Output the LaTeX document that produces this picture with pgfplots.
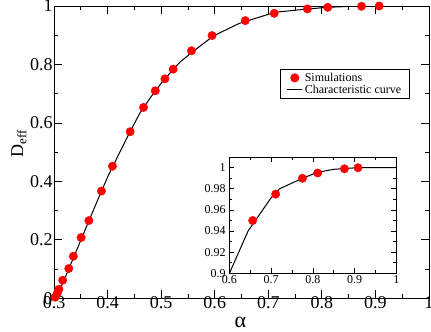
\documentclass[border=0pt]{standalone}
\usepackage{fontspec}
\setmainfont{Liberation Serif}
\usepackage{pgfplots}
\pgfplotsset{compat=1.18}
\usepackage{pgfplotstable}

\pgfplotstableread{
x y
0.302 0.004
0.306 0.018
0.309 0.031
0.316 0.062
0.3275 0.102
0.336 0.144
0.3505 0.208
0.365 0.266
0.3885 0.367
0.409 0.452
0.442 0.570
0.467 0.653
0.489 0.710
0.507 0.751
0.5224 0.784
0.5566 0.847
0.595 0.899
0.657 0.950
0.711 0.975
0.773 0.990
0.811 0.9955
0.874 0.999
0.907 1.000
}\sims

\pgfplotstableread{
x y
0.3035 0
0.32 0.068
0.34 0.155
0.36 0.243
0.38 0.33
0.40 0.415
0.42 0.49
0.44 0.563
0.46 0.633
0.48 0.687
0.50 0.736
0.52 0.778
0.535 0.808
0.555 0.838
0.575 0.866
0.597 0.897
0.645 0.94
0.70 0.9715
0.72 0.98
0.775 0.99
0.81 0.9955
0.85 0.9985
0.905 1.0
1.0 1.0
}\curve

\begin{document}
\begin{tikzpicture}
\useasboundingbox (-54pt,-33pt) rectangle (376.5pt,298pt);
\begin{axis}[
  at={(0pt,0pt)}, anchor=south west,
  scale only axis, width=374.5pt, height=292pt,
  xmin=0.3, xmax=1, ymin=0, ymax=1,
  xtick={0.3,0.4,...,1.01}, ytick={0,0.2,...,1.01},
  minor x tick num=1, minor y tick num=1,
  tick align=inside, ticks=both,
  xtick pos=both, ytick pos=both,
  major tick length=8pt, minor tick length=4pt,
  axis line style={line width=0.9pt}, every tick/.style={line width=0.8pt, black},
  /pgf/number format/assume math mode=true,
  /pgf/number format/precision=2,
  ticklabel style={font=\fontsize{18}{18}\selectfont},
  xticklabel style={yshift=5pt},
  yticklabel style={xshift=2pt},
  xlabel={\fontsize{22}{22}\selectfont α},
  xlabel style={at={(axis description cs:0.497,0)}, anchor=center, yshift=-24pt},
  ylabel={\fontsize{18}{18}\selectfont D\textsubscript{\fontsize{13}{13}\selectfont eff}},
  ylabel style={at={(axis description cs:-0.0935,0.53)}, anchor=center},
  legend style={at={(axis description cs:0.948,0.784)}, anchor=north east,
    font=\fontsize{12}{12}\selectfont, draw=black, line width=0.6pt,
    inner xsep=6pt, inner ysep=1.5pt, row sep=-2pt,
    nodes={inner sep=2pt}},
  legend cell align=left,
  legend image code/.code={\draw[mark repeat=2,mark phase=2,#1] plot coordinates {(0pt,0pt) (7.5pt,0pt) (15pt,0pt)};},
]
\addplot[only marks, mark=*, mark size=4.2pt, draw=red, fill=red, mark options={fill=red,draw=red}] table {\sims};
\addlegendentry{Simulations}
\addplot[black, line width=1pt, mark=none] table {\curve};
\addlegendentry{Characteristic curve}
\end{axis}
\begin{axis}[
  at={(175pt,25pt)}, anchor=south west,
  scale only axis, width=167pt, height=116pt,
  xmin=0.6, xmax=1, ymin=0.9, ymax=1.01,
  axis background/.style={fill=white},
  xtick={0.6,0.7,...,1.01}, ytick={0.9,0.92,...,1.001},
  minor x tick num=1, minor y tick num=1,
  tick align=inside, xtick pos=both, ytick pos=both,
  major tick length=5pt, minor tick length=3pt,
  axis line style={line width=0.9pt}, every tick/.style={line width=0.7pt, black},
  /pgf/number format/assume math mode=true,
  /pgf/number format/precision=2,
  ticklabel style={font=\fontsize{12}{12}\selectfont},
  xticklabel style={yshift=1pt},
  clip=true,
]
\addplot[black, line width=1pt, mark=none] table {\curve};
\addplot[only marks, mark=*, mark size=4.2pt, draw=red, fill=red, mark options={fill=red,draw=red}] table {
x y
0.656 0.950
0.711 0.975
0.775 0.990
0.8115 0.995
0.8755 0.999
0.908 1.000
};
\end{axis}
\end{tikzpicture}
\end{document}
